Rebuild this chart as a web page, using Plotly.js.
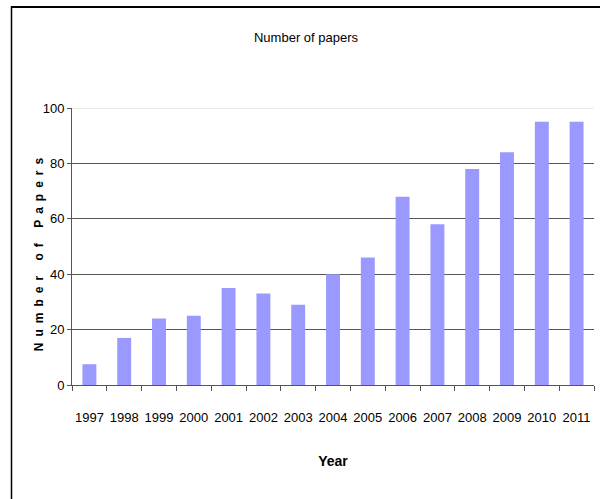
<!DOCTYPE html>
<html>
<head>
<meta charset="utf-8">
<script src="https://cdn.plot.ly/plotly-3.0.1.min.js"></script>
<style>
html,body{margin:0;padding:0;background:#fff;}
#chart{width:600px;height:499px;}
.annotation-text{letter-spacing:6px;}
</style>
</head>
<body>
<div id="chart"></div>
<script>
const years = ["1997","1998","1999","2000","2001","2002","2003","2004","2005","2006","2007","2008","2009","2010","2011"];
const papers = [7.5,17,24,25,35,33,29,40,46,68,58,78,84,95,95];
const yTicks = [0,20,40,60,80,100];

const font = "'Liberation Sans',Arial,sans-serif";

const trace = {
  type: 'bar',
  x: years,
  y: papers,
  marker: {color: '#9999ff'},
  hoverinfo: 'x+y'
};

const layout = {
  width: 600, height: 499,
  margin: {l: 72, r: 6, t: 108, b: 114},
  paper_bgcolor: '#ffffff',
  plot_bgcolor: '#ffffff',
  font: {family: font, color: '#000', size: 12},
  bargap: 0.6,
  showlegend: false,
  title: {
    text: 'Number of papers',
    font: {family: font, size: 13, color: '#000'},
    x: 0.51, xref: 'container', xanchor: 'center',
    y: 0.924, yref: 'container', yanchor: 'middle'
  },
  xaxis: {
    type: 'category',
    showline: true, linecolor: '#555', linewidth: 1,
    ticks: 'outside', tickson: 'boundaries', ticklen: 5, tickcolor: '#555',
    tickangle: 0,
    ticklabelstandoff: 20,
    showgrid: false,
    tickfont: {family: font, size: 13},
    title: {text: '<b>Year</b>', font: {family: font, size: 14}, standoff: 32}
  },
  yaxis: {
    range: [0, 100],
    tickvals: yTicks,
    showline: true, linecolor: '#555', linewidth: 1,
    ticks: 'outside', ticklen: 4, tickcolor: '#555',
    showgrid: true, gridcolor: '#555', gridwidth: 1,
    zeroline: false,
    tickfont: {family: font, size: 13}
  },
  annotations: [
    {text: '<b>Number of Papers</b>', textangle: -90, showarrow: false,
     xref: 'paper', yref: 'paper', x: -0.063, y: 0.48, xanchor: 'center', yanchor: 'middle',
     font: {family: font, size: 12, color: '#000'}}
  ],
  shapes: [
    {type: 'line', xref: 'paper', yref: 'y', x0: 0, x1: 1, y0: 100, y1: 100,
     line: {color: '#e4e4e4', width: 1.5}, layer: 'above'},
    {type: 'line', xref: 'paper', yref: 'paper', x0: -0.116, x1: 1.02, y0: 1.3646, y1: 1.3646,
     line: {color: '#000', width: 2}},
    {type: 'line', xref: 'paper', yref: 'paper', x0: -0.1159, x1: -0.1159, y0: 1.368, y1: -0.45,
     line: {color: '#000', width: 1.5}}
  ]
};

Plotly.newPlot('chart', [trace], layout, {displayModeBar: false, staticPlot: true});
</script>
</body>
</html>
